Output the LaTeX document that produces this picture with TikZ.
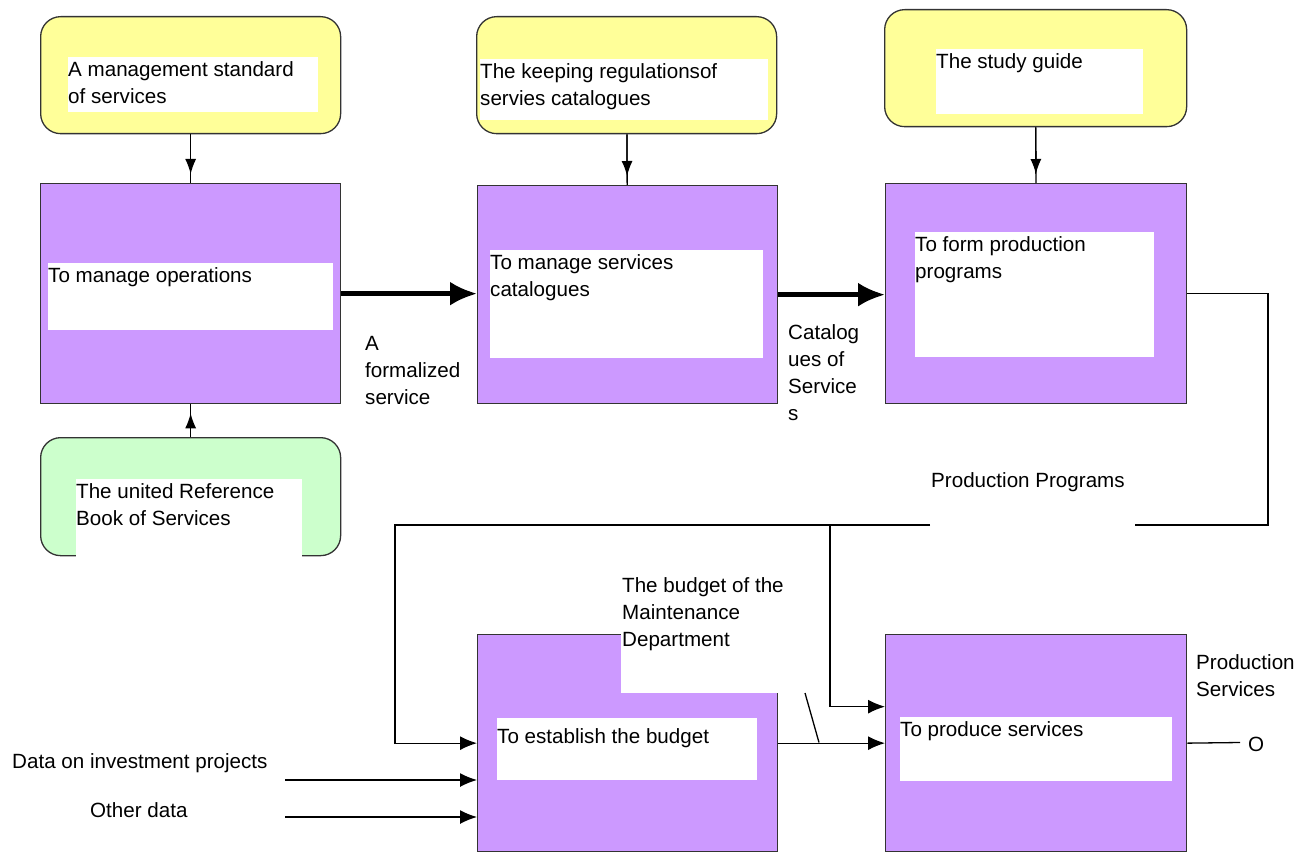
\documentclass[tikz,border=0pt]{standalone}
\usepackage{fontspec}
\setmainfont{Liberation Sans}
\usetikzlibrary{arrows.meta}
\definecolor{noteyellow}{HTML}{FFFF99}
\definecolor{notegreen}{HTML}{CCFFCC}
\definecolor{procpurple}{HTML}{CC99FF}
\definecolor{edge}{HTML}{333333}
\newcommand{\inbox}[4][0pt]{\parbox[t][#3][t]{#2}{\vspace*{#1}\strut #4}}

\begin{document}
\begin{tikzpicture}[x=1pt,y=-1pt,
  every node/.style={font=\fontsize{20.6}{27}\selectfont},
  note/.style={draw=edge, line width=1.3pt, rounded corners=20pt, anchor=north west,
    minimum width=300pt, minimum height=117pt, inner sep=0},
  proc/.style={draw=edge, line width=1.3pt, fill=procpurple, anchor=north west,
    minimum width=300pt, minimum height=218pt, inner sep=0},
  txt/.style={fill=white, anchor=north west, inner sep=0},
  lbl/.style={anchor=north west, inner sep=0, align=left},
  line/.style={line width=1.3pt},
  flow/.style={line width=1.3pt, -{Latex[length=17pt,width=14pt]}},
  vflow/.style={line width=1.3pt, postaction={draw, shorten >=9pt, -{Latex[length=15pt,width=11pt]}}},
  bigflow/.style={line width=4.5pt, -{Latex[length=27pt,width=24pt]}}]
  \useasboundingbox (0,0) rectangle (1308,853);

  \node[note, fill=noteyellow] (std) at (40,16) {};
  \node[note, fill=noteyellow] (keep) at (476,16) {};
  \node[note, fill=noteyellow, minimum width=302pt] (guide) at (884,9) {};
  \node[note, fill=notegreen, minimum height=118pt] (book) at (40,437) {};

  \node[proc, minimum height=220pt] (op) at (40,183) {};
  \node[proc] (cat) at (477,185) {};
  \node[proc, minimum width=301pt, minimum height=220pt] (prog) at (885,183) {};
  \node[proc, minimum height=217pt] (bud) at (477,634) {};
  \node[proc, minimum width=301pt, minimum height=217pt] (prod) at (885,634) {};

  \node[txt] (stdt) at (68,57) {\inbox{250pt}{55pt}{A management standard\\of services}};
  \node[txt] (keept) at (480,59) {\inbox{288pt}{61pt}{The keeping regulationsof\\servies catalogues}};
  \node[txt] (guidet) at (936,49) {\inbox{207pt}{65pt}{The study guide}};
  \node[txt] (bookt) at (76,479) {\inbox{226pt}{81pt}{The united Reference\\Book of Services}};
  \node[txt] (opt) at (48,263) {\inbox{285pt}{67pt}{To manage operations}};
  \node[txt] (catt) at (490,250) {\inbox{273pt}{108pt}{To manage services\\catalogues}};
  \node[txt] (progt) at (915,232) {\inbox{239pt}{125pt}{To form production\\programs}};
  \node[txt] (budt) at (497,718) {\inbox[6pt]{260pt}{62pt}{To establish the budget}};
  \node[txt] (prodt) at (900,717) {\inbox{272pt}{64pt}{To produce services}};

  \fill[white] (621,572) rectangle (779,693);
  \node[lbl] (bm) at (622,573) {\strut The budget of the\\Maintenance\\Department};
  \node[lbl] (fs) at (365,331) {\strut A\\formalized\\service};
  \node[lbl] (cs) at (788,320) {\strut Catalog\\ues of\\Service\\s};
  \node[lbl] (pp) at (931,468) {\strut Production Programs};
  \node[lbl] (ps) at (1196,650) {\strut Production\\Services};
  \node[lbl] (dip) at (12,749) {\strut Data on investment projects};
  \node[lbl] (od) at (90,798) {\strut Other data};
  \node[lbl] (o) at (1248,732) {\strut O};

  \coordinate (pc1) at (1268,525);
  \coordinate (pg1) at (1135,525);
  \coordinate (pg2) at (930,525);
  \coordinate (pc2) at (395,525);
  \coordinate (br) at (830,525);
  \coordinate (sl1) at (805,693);
  \coordinate (sl2) at (819,742.5);
  \coordinate (d1) at (285,780);
  \coordinate (d2) at (285,817);
  \coordinate (pout) at (1240,742.5);

  \draw[vflow] (std) -- (op);
  \draw[vflow] (book) -- (op);
  \draw[vflow] (keep) -- (cat);
  \draw[vflow] (guide) -- (prog);
  \draw[bigflow] (op.east) -- (op.east -| cat.west);
  \draw[bigflow] (cat.east) -- (cat.east -| prog.west);
  \draw[line] (prog.east) -| (pc1) -- (pg1);
  \draw[flow] (pg2) -- (pc2) |- (bud.west);
  \draw[flow] (br) |- ([yshift=36.5pt]prod.west);
  \draw[flow] (bud.east) -- (prod.west);
  \draw[line] (sl1) -- (sl2);
  \draw[flow] (d1) -- (d1 -| bud.west);
  \draw[flow] (d2) -- (d2 -| bud.west);
  \draw[line] (prod.east) -- (pout);
\end{tikzpicture}
\end{document}
